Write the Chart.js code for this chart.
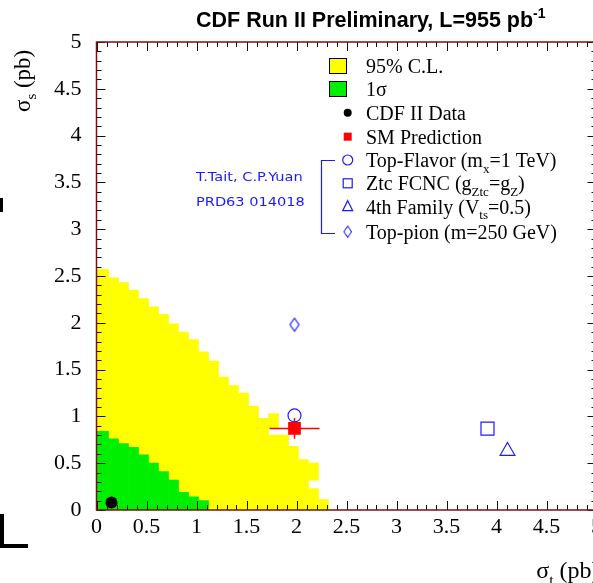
<!DOCTYPE html>
<html>
<head>
<meta charset="utf-8">
<script src="https://cdn.jsdelivr.net/npm/chart.js@4/dist/chart.umd.min.js"></script>
<style>
html,body{margin:0;padding:0;background:#fff;overflow:hidden;width:593px;height:583px}
#c{display:block}
</style>
</head>
<body>
<canvas id="c" width="640" height="583"></canvas>
<script>
/* ===== data ===== */
// 2D cells, 0.1 pb wide in sigma_t, centre of each column
const cellX     = [-0.03,0.07,0.17,0.27,0.37,0.47,0.57,0.67,0.77,0.87,0.97,1.07,1.17,1.27,1.37,1.47,1.57,1.67,1.77,1.87,1.97,2.07,2.17,2.27];
const yellowTop = [2.57,2.57,2.48,2.43,2.35,2.26,2.17,2.09,1.99,1.90,1.82,1.69,1.59,1.42,1.33,1.25,1.11,0.98,1.03,0.80,0.68,0.54,0.50,0.11];
const greenTop  = [0.84,0.84,0.76,0.71,0.67,0.59,0.50,0.41,0.32,0.19,0.14,0.10];
// holes inside the 95% region (column index, from, to)
const gapIdx = [18,22], gapLo = [0.80,0.23], gapHi = [0.88,0.32];

const cdfPt   = [0.15,0.08];
const smPt    = [1.98,0.872], smErr = [0.25,0.11];
const flavPt  = [1.98,1.01];
const ztcPt   = [3.91,0.87];
const fourPt  = [4.11,0.63];
const pionPt  = [1.98,1.98];

const xTicks = [0,0.5,1,1.5,2,2.5,3,3.5,4,4.5,5];
const yTicks = [0,0.5,1,1.5,2,2.5,3,3.5,4,4.5,5];

const BLUE='#1a1aff', SERIF='"Liberation Serif", "Times New Roman", serif';
const fmtTick = v => String(Math.round(v*10)/10);

/* ===== helpers ===== */
function rich(ctx, parts, x, y, size, fam, weight){
  let cx=x;
  parts.forEach(([t,m])=>{
    const s = m ? size*0.65 : size;
    ctx.font = `${weight||''} ${s}px ${fam}`;
    const dy = m===1 ? size*0.28 : (m===2 ? -size*0.42 : 0);
    ctx.fillText(t,cx,y+dy);
    cx += ctx.measureText(t).width;
  });
  return cx-x;
}
function richWidth(ctx, parts, size, fam, weight){
  let w=0;
  parts.forEach(([t,m])=>{ ctx.font=`${weight||''} ${m?size*0.65:size}px ${fam}`; w+=ctx.measureText(t).width; });
  return w;
}

// narrow diamond for top-pion
const dia=document.createElement('canvas'); dia.width=12; dia.height=16;
(()=>{const d=dia.getContext('2d'); d.strokeStyle=BLUE; d.lineWidth=1.2; d.beginPath();
  d.moveTo(6,1.5); d.lineTo(10.5,8); d.lineTo(6,14.5); d.lineTo(1.5,8); d.closePath(); d.stroke();})();

/* ===== datasets ===== */
const yMain  = cellX.map((x,i)=>{const g=gapIdx.indexOf(i); return {x, y:[0, g<0?yellowTop[i]:gapLo[g]]};});
const yUpper = gapIdx.map((i,k)=>({x:cellX[i], y:[gapHi[k], yellowTop[i]]}));
const gCells = greenTop.map((t,i)=>({x:cellX[i], y:[0,t]}));

const barDs = (data,col,order)=>({type:'bar',data,backgroundColor:col,borderWidth:0,barPercentage:1,categoryPercentage:1,grouped:false,order,clip:0});
const ptDs = (p,o)=>Object.assign({type:'scatter',data:[{x:p[0],y:p[1]}],order:0,clip:false},o);

/* ===== frame, ticks, texts ===== */
const deco = {
  id:'deco',
  afterDraw(ch){
    const {ctx, chartArea:a, scales:{x,y}} = ch;
    ctx.save();
    // minor/major ticks pointing in, on all four sides
    ctx.strokeStyle='#111'; ctx.lineWidth=1; ctx.beginPath();
    for(let i=0;i<=50;i++){
      const v=i/10, len=i%5===0?9:5;
      const px=Math.round(x.getPixelForValue(v))+0.5, py=Math.round(y.getPixelForValue(v))+0.5;
      ctx.moveTo(px,a.bottom); ctx.lineTo(px,a.bottom-len);
      ctx.moveTo(px,a.top); ctx.lineTo(px,a.top+len);
      ctx.moveTo(a.left,py); ctx.lineTo(a.left+len,py);
      ctx.moveTo(a.right,py); ctx.lineTo(a.right-len,py);
    }
    ctx.stroke();
    ctx.strokeStyle='#7a1010'; ctx.lineWidth=1.5;
    ctx.strokeRect(a.left,a.top,a.right-a.left,a.bottom-a.top);

    // title
    ctx.fillStyle='#000'; ctx.textBaseline='alphabetic'; ctx.textAlign='left';
    rich(ctx,[['CDF Run II Preliminary, L=955 pb',0],['-1',2]],196,27,21.5,'"Liberation Sans", Arial, sans-serif','bold');

    // axis titles
    const xt=[['\u03c3',0],['t',1],[' (pb)',0]];
    const w=richWidth(ctx,xt,24,SERIF);
    rich(ctx,xt,a.right+3-w,578,24,SERIF);
    ctx.save(); ctx.translate(30,112); ctx.rotate(-Math.PI/2);
    rich(ctx,[['\u03c3',0],['s',1],[' (pb)',0]],0,0,23,SERIF);
    ctx.restore();

    // reference text
    ctx.fillStyle=BLUE; ctx.font='13px "DejaVu Sans", sans-serif';
    ctx.save(); ctx.translate(196,0); ctx.scale(1.12,1);
    ctx.fillText('T.Tait, C.P.Yuan',0,181);
    ctx.fillText('PRD63 014018',0,206);
    ctx.restore();

    // legend
    const lx=347.7, tx=366, rows=[66,89,112.7,136.7,160,183.3,206.7,231.7];
    ctx.lineWidth=1; ctx.strokeStyle='#000';
    ctx.fillStyle='#ffff00'; ctx.fillRect(329.5,58.5,17,15); ctx.strokeRect(329.5,58.5,17,15);
    ctx.fillStyle='#00ee00'; ctx.fillRect(329.5,81.5,17,15); ctx.strokeRect(329.5,81.5,17,15);
    ctx.fillStyle='#000'; ctx.beginPath(); ctx.arc(lx,rows[2],4,0,Math.PI*2); ctx.fill();
    ctx.fillStyle='#ff0000'; ctx.fillRect(lx-4,rows[3]-4,8,8);
    ctx.strokeStyle=BLUE; ctx.lineWidth=1.2;
    ctx.beginPath(); ctx.arc(lx,rows[4],5,0,Math.PI*2); ctx.stroke();
    ctx.strokeRect(lx-4.5,rows[5]-4.5,9,9);
    ctx.beginPath(); ctx.moveTo(lx,rows[6]-6); ctx.lineTo(lx+5,rows[6]+4); ctx.lineTo(lx-5,rows[6]+4); ctx.closePath(); ctx.stroke();
    ctx.drawImage(dia,lx-5,rows[7]-7,10,14);
    ctx.lineWidth=1.2; ctx.beginPath();
    ctx.moveTo(335,160.5); ctx.lineTo(321.5,160.5); ctx.lineTo(321.5,233.5); ctx.lineTo(335,233.5); ctx.stroke();

    ctx.fillStyle='#000'; const fs=20, bl=7;
    const labels=[
      [['95% C.L.',0]],
      [['1\u03c3',0]],
      [['CDF II Data',0]],
      [['SM Prediction',0]],
      [['Top-Flavor (m',0],['x',1],['=1 TeV)',0]],
      [['Ztc FCNC (g',0],['Ztc',1],['=g',0],['Z',1],[')',0]],
      [['4th Family (V',0],['ts',1],['=0.5)',0]],
      [['Top-pion (m=250 GeV)',0]]
    ];
    labels.forEach((p,i)=>rich(ctx,p,tx,rows[i]+bl,fs,SERIF));

    // stray marks from the neighbouring panel
    ctx.fillStyle='#000';
    ctx.fillRect(0,198,3,14);
    ctx.fillRect(0,514,4,34);
    ctx.fillRect(0,544,28,4);
    ctx.restore();
  }
};

new Chart(document.getElementById('c'),{
  data:{datasets:[
    ptDs(cdfPt,{pointStyle:'circle',pointRadius:6,backgroundColor:'#000',borderColor:'#000',borderWidth:0}),
    ptDs(smPt,{pointStyle:'rect',pointRadius:9,backgroundColor:'#ff0000',borderColor:'#ff0000',borderWidth:0}),
    ptDs(flavPt,{pointStyle:'circle',pointRadius:6.5,backgroundColor:'rgba(0,0,0,0)',borderColor:BLUE,borderWidth:1.2}),
    ptDs(ztcPt,{pointStyle:'rect',pointRadius:9.2,backgroundColor:'rgba(0,0,0,0)',borderColor:BLUE,borderWidth:1.2}),
    ptDs(fourPt,{pointStyle:'triangle',pointRadius:8.5,backgroundColor:'rgba(0,0,0,0)',borderColor:BLUE,borderWidth:1.2}),
    ptDs(pionPt,{pointStyle:dia,pointRadius:7}),
    {type:'line',data:[{x:smPt[0]-smErr[0],y:smPt[1]},{x:smPt[0]+smErr[0],y:smPt[1]}],borderColor:'#ff0000',borderWidth:1.5,pointRadius:0,order:1},
    {type:'line',data:[{x:smPt[0],y:smPt[1]-smErr[1]},{x:smPt[0],y:smPt[1]+smErr[1]}],borderColor:'#ff0000',borderWidth:1.5,pointRadius:0,order:1},
    barDs(gCells,'#00ee00',5),
    barDs(yUpper,'#ffff00',9),
    barDs(yMain,'#ffff00',10)
  ]},
  options:{
    responsive:false, animation:false, events:[], devicePixelRatio:1,
    layout:{padding:{top:42,right:43.5,left:0,bottom:0}},
    plugins:{legend:{display:false},tooltip:{enabled:false}},
    scales:{
      x:{type:'linear',min:0,max:5,offset:false,grid:{display:false,drawTicks:false},border:{display:false},
         afterBuildTicks:s=>{s.ticks=xTicks.map(v=>({value:v}));},
         ticks:{autoSkip:false,maxRotation:0,padding:4,color:'#000',font:{family:SERIF,size:22},callback:fmtTick},
         afterFit:s=>{s.height=73;}},
      y:{type:'linear',min:0,max:5,grid:{display:false,drawTicks:false},border:{display:false},
         afterBuildTicks:s=>{s.ticks=yTicks.map(v=>({value:v}));},
         ticks:{padding:15,color:'#000',font:{family:SERIF,size:22},callback:fmtTick},
         afterFit:s=>{s.height=s.height;s.width=96.5;}}
    }
  },
  plugins:[deco]
});
</script>
</body>
</html>
